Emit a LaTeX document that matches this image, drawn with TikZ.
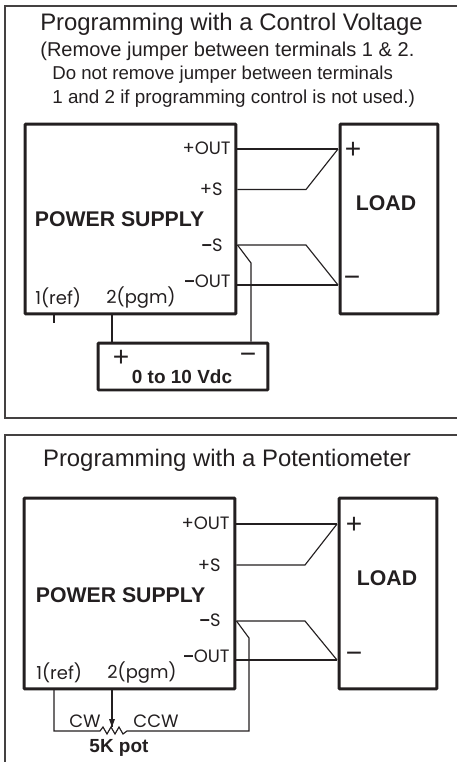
\documentclass[tikz,border=0pt]{standalone}
\usepackage{fontspec}
\setmainfont{Liberation Sans}
\newfontfamily\termfont{Poppins}
\newcommand{\termminus}{{\rmfamily\bfseries −}}
\definecolor{ink}{HTML}{231F20}
\tikzset{
	block/.style = {draw=ink, line width = 1.7pt, rounded corners = 0.5pt, inner sep = 0pt},
	wire/.style = {draw=ink, line width = 0.65pt},
	frameline/.style = {draw=ink!85, line width = 0.9pt},
	term/.style = {text=ink, inner sep = 0pt, font=\termfont\fontsize{10.2}{11}\selectfont},
	sign/.style = {text=ink, inner sep = 0pt, font=\fontsize{16}{16}\selectfont},
	heading/.style = {text=ink, inner sep = 0pt, font=\fontsize{13.6}{14}\selectfont},
	note/.style = {text=ink, inner sep = 0pt, anchor=west, font=\fontsize{10.7}{12}\selectfont},
	boldlabel/.style = {text=ink, inner sep = 0pt, font=\bfseries\fontsize{12.1}{13}\selectfont},
	smallbold/.style = {text=ink, inner sep = 0pt, font=\bfseries\fontsize{10.8}{11}\selectfont}
}
\begin{document}
\begin{tikzpicture}[x=0.02cm,y=-0.02cm]
	\useasboundingbox (0,0) rectangle (457,762);
	
	% upper panel
	\coordinate (frameAtr) at (457,6);
	\coordinate (frameAtl) at (5,6);
	\coordinate (frameAbl) at (5,418);
	\coordinate (frameAbr) at (457,418);
	\draw [frameline] (frameAtr) -- (frameAtl) -- (frameAbl) -- (frameAbr);
	
	\node [heading] (titleA) at (231.5,24) {Programming with a Control Voltage};
	\node [note, font=\fontsize{11.4}{12}\selectfont] (noteAa) at (40,51) {(Remove jumper between terminals 1 \& 2.};
	\node [note, font=\fontsize{10.6}{12}\selectfont] (noteAb) at (52,75) {Do not remove jumper between terminals};
	\node [note] (noteAc) at (52,99) {1 and 2 if programming control is not used.)};
	
	\node [block, minimum width = 4.22cm, minimum height = 3.8cm] (supplyA) at (130.5,219) {};
	\node [block, minimum width = 1.96cm, minimum height = 3.8cm] (loadA) at (389,219) {};
	\node [block, minimum width = 3.4cm, minimum height = 0.94cm] (sourceA) at (183,366.5) {};
	
	\node [boldlabel] (supplynameA) at (119.5,219) {POWER SUPPLY};
	\node [boldlabel] (loadnameA) at (386,203) {LOAD};
	\node [smallbold] (sourcenameA) at (182,377) {0 to 10 Vdc};
	
	\node [term, anchor=east] (poutA) at (231,148) {+OUT};
	\node [term, anchor=east] (psA) at (223,189) {+S};
	\node [term, anchor=east] (msA) at (223,245) {\termminus S};
	\node [term, anchor=east] (moutA) at (231,281) {\termminus OUT};
	\node [term, anchor=west] (refA) at (35,298) {1(ref)};
	\node [term, anchor=west] (pgmA) at (106,298) {2(pgm)};
	
	\node [sign] (lplusA) at (353,150) {+};
	\node [sign] (lminusA) at (352,281) {−};
	\node [sign] (splusA) at (121,358) {+};
	\node [sign] (sminusA) at (248,358) {−};
	
	\coordinate (jplusA) at (338,149);
	\coordinate (jminusA) at (338,285);
	\coordinate (kplusA) at (306,189.5);
	\coordinate (kminusA) at (306,245);
	\draw [wire] (supplyA.east |- jplusA) -- (jplusA);
	\draw [wire] (supplyA.east |- kplusA) -- (kplusA) -- (jplusA);
	\draw [wire] (supplyA.east |- kminusA) -- (kminusA) -- (jminusA);
	\draw [wire] (supplyA.east |- jminusA) -- (jminusA);
	
	\coordinate (tailA) at (251,263);
	\draw [wire] (supplyA.east |- kminusA) -- (tailA) -- (tailA |- sourceA.north);
	\coordinate (pgmwireA) at (112,314);
	\draw [wire] (pgmwireA) -- (pgmwireA |- sourceA.north);
	\coordinate (stubtopA) at (54,314);
	\coordinate (stubendA) at (54,323);
	\draw [wire] (stubtopA) -- (stubendA);
	
	% lower panel
	\coordinate (frameBtr) at (457,435);
	\coordinate (frameBtl) at (5,435);
	\coordinate (frameBbl) at (5,762);
	\draw [frameline] (frameBtr) -- (frameBtl) -- (frameBbl);
	
	\node [heading] (titleB) at (227,460) {Programming with a Potentiometer};
	
	\node [block, minimum width = 4.22cm, minimum height = 3.82cm] (supplyB) at (129.5,593.5) {};
	\node [block, minimum width = 1.96cm, minimum height = 3.82cm] (loadB) at (388,593.5) {};
	
	\node [boldlabel] (supplynameB) at (120.5,595) {POWER SUPPLY};
	\node [boldlabel] (loadnameB) at (387,578) {LOAD};
	\node [smallbold] (potname) at (119,748) {5K pot};
	
	\node [term, anchor=east] (poutB) at (230,523) {+OUT};
	\node [term, anchor=east] (psB) at (221,565) {+S};
	\node [term, anchor=east] (msB) at (221,620) {\termminus S};
	\node [term, anchor=east] (moutB) at (230,656) {\termminus OUT};
	\node [term, anchor=west] (refB) at (36,673) {1(ref)};
	\node [term, anchor=west] (pgmB) at (107,673) {2(pgm)};
	\node [term] (cw) at (85,721) {CW};
	\node [term] (ccw) at (156,721) {CCW};
	
	\node [sign] (lplusB) at (354,525) {+};
	\node [sign] (lminusB) at (354,657) {−};
	
	\coordinate (jplusB) at (337,524);
	\coordinate (jminusB) at (337,660);
	\coordinate (kplusB) at (305,565);
	\coordinate (kminusB) at (305,621);
	\draw [wire] (supplyB.east |- jplusB) -- (jplusB);
	\draw [wire] (supplyB.east |- kplusB) -- (kplusB) -- (jplusB);
	\draw [wire] (supplyB.east |- kminusB) -- (kminusB) -- (jminusB);
	\draw [wire] (supplyB.east |- jminusB) -- (jminusB);
	
	% potentiometer
	\coordinate (refwire) at (54,689);
	\coordinate (potleft) at (54,731);
	\coordinate (potright) at (249,731);
	\coordinate (tailB) at (249,638);
	\coordinate (pgmwire) at (112,689);
	\coordinate (wiper) at (112,727);
	\draw [wire] (refwire) -- (potleft) -- (100,731) -- (103,727) -- (107,734) -- (111,727) -- (115,734) -- (119,727) -- (123,734) -- (127,731) -- (potright) -- (tailB) -- (supplyB.east |- kminusB);
	\draw [wire, line width = 0.8pt] (pgmwire) -- (wiper);
	\fill [ink] (109,719) -- (115,719) -- (112,727) -- cycle;
\end{tikzpicture}
\end{document}
